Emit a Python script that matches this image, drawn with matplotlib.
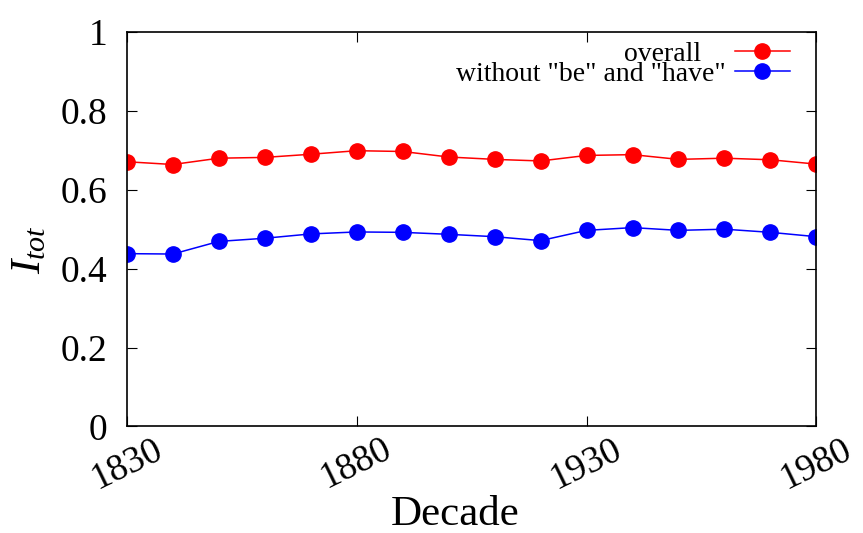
import matplotlib
matplotlib.use("Agg")
import matplotlib.pyplot as plt

decades = [1830, 1840, 1850, 1860, 1870, 1880, 1890, 1900,
           1910, 1920, 1930, 1940, 1950, 1960, 1970, 1980]
overall = [0.671, 0.664, 0.680, 0.682, 0.690, 0.699, 0.697, 0.683,
           0.677, 0.673, 0.687, 0.689, 0.677, 0.680, 0.676, 0.665]
without_be_have = [0.438, 0.437, 0.469, 0.477, 0.488, 0.493, 0.492, 0.487,
                   0.481, 0.471, 0.497, 0.504, 0.497, 0.500, 0.492, 0.481]
xticks = [1830, 1880, 1930, 1980]
yticks = [0, 0.2, 0.4, 0.6, 0.8, 1]
ytick_labels = ["0", "0.2", "0.4", "0.6", "0.8", "1"]

plt.rcParams["font.family"] = ["Liberation Serif", "DejaVu Serif"]
plt.rcParams["mathtext.fontset"] = "custom"
plt.rcParams["mathtext.it"] = "Liberation Serif:italic"
plt.rcParams["mathtext.rm"] = "Liberation Serif"

fig = plt.figure(figsize=(8.63, 5.33), dpi=100)
ax = fig.add_axes([0.147, 0.2, 0.799, 0.74])

l1, = ax.plot(decades, overall, color="red", lw=1.1, marker="o", ms=11)
l2, = ax.plot(decades, without_be_have, color="blue", lw=1.1, marker="o", ms=11)

ax.set_xlim(1830, 1980)
ax.set_ylim(0, 1)
ax.set_xticks(xticks)
ax.set_xticklabels([str(t) for t in xticks], rotation=26, ha="center",
                   rotation_mode="default", fontsize=27)
ax.set_yticks(yticks)
ax.set_yticklabels(ytick_labels, fontsize=27)
ax.tick_params(direction="in", top=True, right=True, length=7, width=0.8)
ax.tick_params(axis="y", pad=14)
ax.tick_params(axis="x", pad=4)
for s in ax.spines.values():
    s.set_linewidth(1.2)

ax.set_xlabel("Decade", fontsize=31)
ax.xaxis.set_label_coords(0.476, -0.175)
ax.set_ylabel(r"$I_{tot}$", fontsize=31)
ax.yaxis.set_label_coords(-0.112, 0.449)

# gnuplot-style key: text right-justified against the sample
leg1 = ax.legend([l1], ["overall"], loc="upper right", bbox_to_anchor=(0.99, 1.025),
                 frameon=False, markerfirst=False, fontsize=20, handlelength=2.0,
                 handletextpad=1.2, borderpad=0.2)
ax.add_artist(leg1)
ax.legend([l2], ['without "be" and "have"'], loc="upper right", bbox_to_anchor=(0.99, 0.974),
          frameon=False, markerfirst=False, fontsize=20, handlelength=2.0,
          handletextpad=0.3, borderpad=0.2)

fig.savefig("out.png", dpi=100)
